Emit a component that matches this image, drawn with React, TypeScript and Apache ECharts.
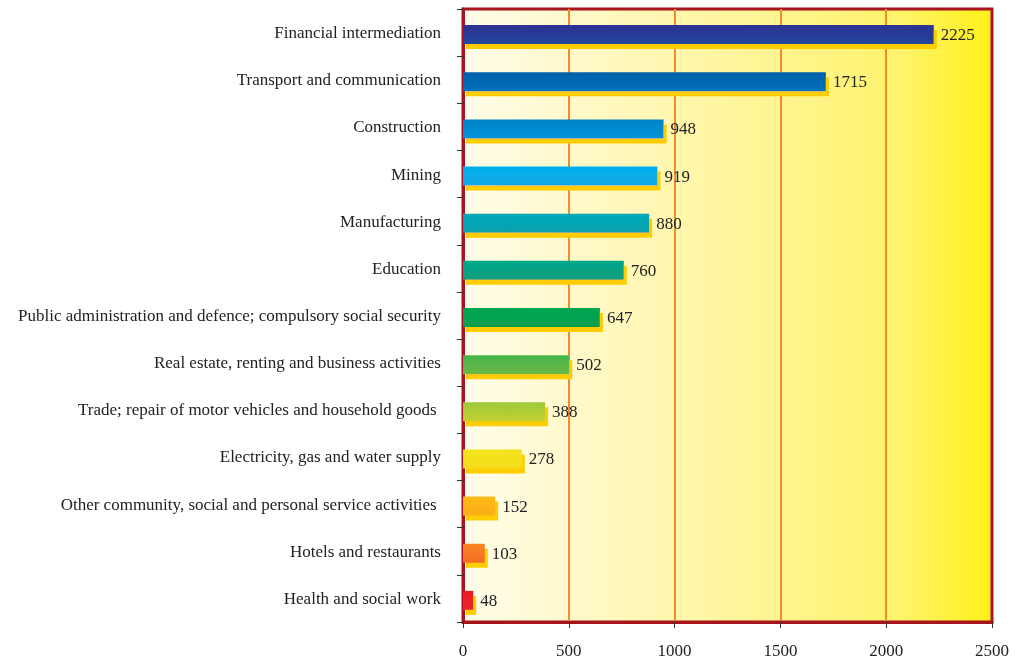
import React, { useEffect, useRef } from "react";
import * as echarts from "echarts";

const categories = [
  "Financial intermediation",
  "Transport and communication",
  "Construction",
  "Mining",
  "Manufacturing",
  "Education",
  "Public administration and defence; compulsory social security",
  "Real estate, renting and business activities",
  "Trade; repair of motor vehicles and household goods ",
  "Electricity, gas and water supply",
  "Other community, social and personal service activities ",
  "Hotels and restaurants",
  "Health and social work",
];
const values = [2225, 1715, 948, 919, 880, 760, 647, 502, 388, 278, 152, 103, 48];
const barColors = [
  ["#2e3192", "#21479b"],
  ["#0061aa", "#0070ba"],
  ["#0082c8", "#0093d8"],
  ["#00aeef", "#12a9e6"],
  ["#00a9b8", "#0aa0ad"],
  ["#00a88a", "#0e9d7c"],
  ["#00a651", "#0a9e4c"],
  ["#45b549", "#6bb846"],
  ["#9cc93a", "#c3cf32"],
  ["#f2e51c", "#f6dc1a"],
  ["#fdba13", "#fbae17"],
  ["#f7851f", "#f26b23"],
  ["#ed1c24", "#e8262a"],
];
const xTicks = [0, 500, 1000, 1500, 2000, 2500];

export default function App() {
  const ref = useRef<HTMLDivElement>(null);
  useEffect(() => {
    const chart = echarts.init(ref.current!, null, { renderer: "svg" });
    const serif = "Liberation Serif";
    chart.setOption({
      animation: false,
      grid: {
        left: 463,
        right: 25,
        top: 9,
        bottom: 42,
        show: true,
        borderColor: "#a8141c",
        borderWidth: 3,
        backgroundColor: {
          type: "linear",
          x: 0,
          y: 0,
          x2: 1,
          y2: 0,
          colorStops: [
            { offset: 0, color: "#fffdea" },
            { offset: 0.26, color: "#fff8c2" },
            { offset: 0.6, color: "#fff490" },
            { offset: 0.83, color: "#fff36a" },
            { offset: 1, color: "#fff016" },
          ],
        },
      },
      xAxis: {
        type: "value",
        min: xTicks[0],
        max: xTicks[xTicks.length - 1],
        interval: 500,
        axisLine: { show: true, lineStyle: { color: "#a8141c", width: 3 } },
        axisTick: { show: true, length: 6, lineStyle: { color: "#333" } },
        axisLabel: {
          margin: 20,
          fontFamily: serif,
          fontSize: 17,
          color: "#222",
          formatter: (v: number) => String(v),
        },
        splitLine: {
          show: true,
          showMinLine: false,
          showMaxLine: false,
          lineStyle: { color: "#f58a2a", width: 2 },
        },
      },
      yAxis: {
        type: "category",
        data: categories,
        inverse: true,
        axisLine: { show: true, lineStyle: { color: "#a8141c", width: 3 } },
        axisTick: { show: true, length: 6, lineStyle: { color: "#333" } },
        axisLabel: {
          margin: 22,
          fontFamily: serif,
          fontSize: 17,
          color: "#222",
        },
      },
      series: [
        {
          type: "bar",
          barWidth: 4,
          barGap: 0,
          silent: true,
          data: values.map(() => null),
        },
        {
          type: "bar",
          barWidth: 19,
          barGap: 0,
          data: values.map((v, i) => ({
            value: v,
            itemStyle: {
              color: {
                type: "linear",
                x: 0,
                y: 0,
                x2: 0,
                y2: 1,
                colorStops: [
                  { offset: 0, color: barColors[i][0] },
                  { offset: 1, color: barColors[i][1] },
                ],
              },
              shadowColor: "#ffcc00",
              shadowBlur: 0,
              shadowOffsetX: 3,
              shadowOffsetY: 5,
            },
          })),
          label: {
            show: true,
            position: "right",
            distance: 7,
            fontFamily: serif,
            fontSize: 17,
            color: "#222",
          },
        },
      ],
    });
    return () => chart.dispose();
  }, []);
  return (
    <div
      ref={ref}
      style={{ position: "fixed", left: 0, top: 0, width: 1017, height: 664 }}
    />
  );
}
